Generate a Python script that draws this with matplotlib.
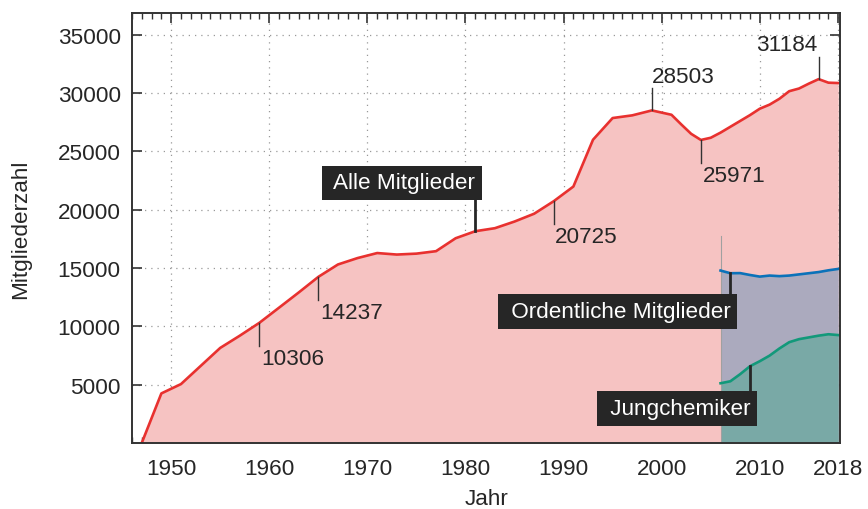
import matplotlib
matplotlib.use('Agg')
import matplotlib.pyplot as plt
from matplotlib.ticker import MultipleLocator
import numpy as np

plt.rcParams['font.family'] = ['Liberation Sans', 'DejaVu Sans']

# Alle Mitglieder
years_all = [1947, 1949, 1951, 1955, 1957, 1959, 1961, 1963, 1965, 1967, 1969,
             1971, 1973, 1975, 1977, 1979, 1981, 1983, 1985, 1987, 1989, 1991,
             1993, 1995, 1997, 1999, 2001, 2002, 2003, 2004, 2005, 2006, 2007,
             2008, 2009, 2010, 2011, 2012, 2013, 2014, 2015, 2016, 2017, 2018]
members_all = [0, 4250, 5050, 8150, 9200, 10306, 11600, 12900, 14237, 15300, 15850,
               16280, 16150, 16230, 16440, 17550, 18150, 18410, 18980, 19650, 20725, 21980,
               25990, 27850, 28080, 28503, 28130, 27300, 26500, 25971, 26160, 26600, 27100,
               27600, 28100, 28650, 29000, 29500, 30150, 30380, 30800, 31184, 30880, 30850]

# Ordentliche Mitglieder und Jungchemiker (ab 2006)
years_sub = [2006, 2007, 2008, 2009, 2010, 2011, 2012, 2013, 2014, 2015, 2016, 2017, 2018]
members_ord = [14780, 14550, 14560, 14400, 14260, 14350, 14300, 14350, 14450, 14550, 14650, 14800, 14920]
members_jung = [5120, 5290, 5900, 6580, 7010, 7490, 8100, 8640, 8900, 9050, 9200, 9320, 9250]

# beschriftete Werte: (Jahr, Wert, Richtung)
marked = [(1959, 10306, 'down'), (1965, 14237, 'down'), (1989, 20725, 'down'),
          (1999, 28503, 'up'), (2004, 25971, 'down'), (2016, 31184, 'up')]

red, pink = '#e8312f', '#f6c3c2'
blue, lav = '#0b72b9', '#abaabe'
green, teal = '#12997a', '#79a9a6'
dark = '#262626'
fs = 16.2

fig = plt.figure(figsize=(8.68, 5.10), dpi=100)
ax = fig.add_axes([0.152, 0.1294, 0.816, 0.8431])

ax.fill_between(years_all, 0, members_all, color=pink, lw=0, zorder=1)
ax.plot(years_all, members_all, color=red, lw=1.9, zorder=4)

ax.fill_between(years_sub, 0, members_ord, color=lav, lw=0, zorder=2)
ax.fill_between(years_sub, 0, members_jung, color=teal, lw=0, zorder=2)
ax.plot(years_sub, members_ord, color=blue, lw=1.9, zorder=4)
ax.plot(years_sub, members_jung, color=green, lw=1.9, zorder=4)
ax.plot([2006, 2006], [0, 17700], color='#a0a0a0', lw=0.8, zorder=3)

ax.set_xlim(1946, 2018.2)
ax.set_ylim(0, 36850)
ax.set_xticks([1950, 1960, 1970, 1980, 1990, 2000, 2010, 2018])
ax.xaxis.set_minor_locator(MultipleLocator(1))
ax.set_yticks([5000, 10000, 15000, 20000, 25000, 30000, 35000])
ax.tick_params(which='both', direction='in', top=True, right=True,
               color='#333333', labelsize=fs, labelcolor='#262626')
ax.tick_params(axis='x', pad=11)
ax.tick_params(axis='y', pad=8)
ax.tick_params(which='major', length=7, width=1.2)
ax.tick_params(which='minor', length=4, width=1.0)
for s in ax.spines.values():
    s.set_color('#333333')
    s.set_linewidth(1.4)
    s.set_zorder(6)
ax.grid(True, which='major', linestyle=(0, (1, 4)), color='#999999', lw=0.9, zorder=0)
ax.set_axisbelow(True)

ax.set_xlabel('Jahr', fontsize=fs, color='#262626', labelpad=6)
ax.set_ylabel('Mitgliederzahl', fontsize=fs, color='#262626', labelpad=19)

for yr, val, d in marked:
    if d == 'down':
        ax.plot([yr, yr], [val, val - 1950], color='#333333', lw=1, zorder=5)
        ax.text(yr + 0.15, val - 2150, f'{val}', fontsize=fs, color='#262626',
                ha='left', va='top', zorder=5)
    else:
        ax.plot([yr, yr], [val, val + 1900], color='#333333', lw=1, zorder=5)
        ha = 'right' if yr == 2016 else 'left'
        dx = -0.1 if yr == 2016 else 0.05
        ax.text(yr + dx, val + 2050, f'{val}', fontsize=fs, color='#262626',
                ha=ha, va='bottom', zorder=5)

box = dict(facecolor=dark, edgecolor='none', boxstyle='square,pad=0.3')
# Alle Mitglieder
ax.plot([1981, 1981], [18150, 21200], color=dark, lw=2, zorder=5)
ax.text(1973.5, 22300, ' Alle Mitglieder', fontsize=fs, color='white',
        ha='center', va='center', bbox=box, zorder=7)
# Ordentliche Mitglieder
ax.plot([2007, 2007], [12500, 14550], color=dark, lw=2, zorder=5)
ax.text(1995.5, 11280, ' Ordentliche Mitglieder', fontsize=fs, color='white',
        ha='center', va='center', bbox=box, zorder=7)
# Jungchemiker
ax.plot([2009, 2009], [4200, 6580], color=dark, lw=2, zorder=5)
ax.text(2001.6, 2960, ' Jungchemiker', fontsize=fs, color='white',
        ha='center', va='center', bbox=box, zorder=7)

fig.savefig('out.png', dpi=100)
